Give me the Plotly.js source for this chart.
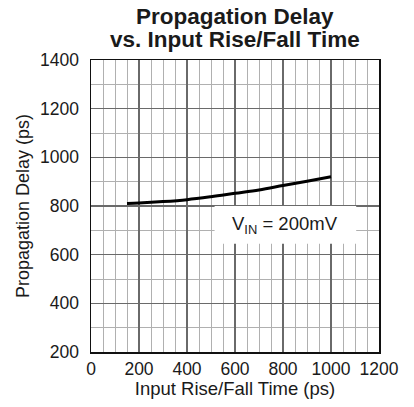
<!DOCTYPE html>
<html><head><meta charset="utf-8">
<script src="https://cdn.plot.ly/plotly-3.0.1.min.js"></script>
<style>html,body{margin:0;padding:0;background:#fff}#chart{width:414px;height:407px}</style>
</head><body><div id="chart"></div>
<script>
const riseFallTime = [150, 200, 300, 400, 500, 600, 700, 800, 900, 1000];
const propDelay = [810, 812, 818, 826, 838, 852, 866, 884, 902, 920];
const xTicks = [0, 200, 400, 600, 800, 1000, 1200];
const yTicks = [200, 400, 600, 800, 1000, 1200, 1400];
const titleLines = ['Propagation Delay', 'vs. Input Rise/Fall Time'];
const labelText = 'V<sub>IN</sub> = 200mV';

const font = 'Liberation Sans, Arial, Helvetica, sans-serif';
const txt = '#1a1a1a';
const data = [{
  x: riseFallTime, y: propDelay, type: 'scatter', mode: 'lines',
  line: {color: '#000', width: 3, shape: 'spline'}, hoverinfo: 'skip'
}];
const axisCommon = {
  showline: true, linecolor: '#111', linewidth: 1.5, mirror: true,
  gridcolor: '#6a6a6a', gridwidth: 1.2, zeroline: false, ticks: '',
  tickfont: {family: font, size: 17.5, color: txt}, fixedrange: true
};
const layout = {
  width: 414, height: 407,
  margin: {l: 91, r: 35, t: 60, b: 55},
  paper_bgcolor: '#fff', plot_bgcolor: '#fff',
  showlegend: false,
  xaxis: Object.assign({}, axisCommon, {
    range: [0, 1200], tickvals: xTicks, ticktext: xTicks.map(String),
    minor: {dtick: 50, tick0: 0, showgrid: true, gridcolor: '#b0b0b0', gridwidth: 1},
    ticklabelstandoff: 0,
    title: {text: 'Input Rise/Fall Time (ps)', font: {family: font, size: 18.5, color: txt}, standoff: 2}
  }),
  yaxis: Object.assign({}, axisCommon, {
    range: [200, 1400], tickvals: yTicks, ticktext: yTicks.map(String),
    minor: {dtick: 100, tick0: 0, showgrid: true, gridcolor: '#b0b0b0', gridwidth: 1},
    ticklabelstandoff: 7,
    title: {text: 'Propagation Delay (ps)', font: {family: font, size: 18, color: txt}, standoff: 6}
  }),
  shapes: [{type: 'rect', xref: 'x', yref: 'y', x0: 515, x1: 1105, y0: 645, y1: 800,
            fillcolor: '#fff', line: {width: 0}, layer: 'between'}],
  annotations: [
    {x: 0.5, y: 1 + 43/292, xref: 'paper', yref: 'paper', text: '<b>' + titleLines[0] + '</b>', showarrow: false,
     font: {family: font, size: 22.5, color: txt}, xanchor: 'center', yanchor: 'middle'},
    {x: 0.5, y: 1 + 20/292, xref: 'paper', yref: 'paper', text: '<b>' + titleLines[1] + '</b>', showarrow: false,
     font: {family: font, size: 22.5, color: txt}, xanchor: 'center', yanchor: 'middle'},
    {x: 808, y: 722, xref: 'x', yref: 'y', text: labelText, showarrow: false,
     font: {family: font, size: 18.5, color: txt}, xanchor: 'center', yanchor: 'middle'}
  ]
};
Plotly.newPlot('chart', data, layout, {displayModeBar: false, staticPlot: true});
</script></body></html>
